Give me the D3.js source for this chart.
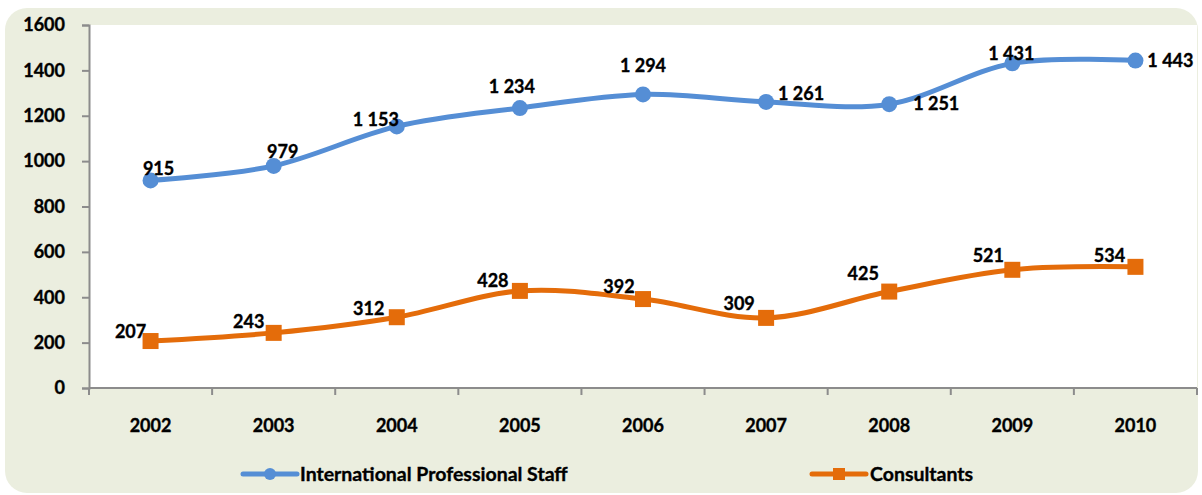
<!DOCTYPE html>
<html>
<head>
<meta charset="utf-8">
<script src="https://cdn.jsdelivr.net/npm/d3@7"></script>
<style>
  body { margin: 0; background: #fff; }
  svg { display: block; font-family: Lato, "Open Sans", sans-serif; font-weight: bold; }
  svg text { stroke: #000; stroke-width: 0.35px; }
</style>
</head>
<body>
<svg></svg>
<script>
// data
let years = ['2002', '2003', '2004', '2005', '2006', '2007', '2008', '2009', '2010'];
let staff = [915, 979, 1153, 1234, 1294, 1261, 1251, 1431, 1443];
let consultants = [207, 243, 312, 428, 392, 309, 425, 521, 534];
let yTicks = [0, 200, 400, 600, 800, 1000, 1200, 1400, 1600];

// label nudges (px) relative to each point, roughly how excel placed them
let staffDx = [8, 9, -21, -8, 0, 35, 47, -1, 35];
let staffDy = [-5, -8, 0, -15, -22, -2, 6, -3, 6];
let consDx = [-20, -25, -28, -27, -24, -27, -26, -24, -26];
let consDy = [-3, -5, -2, -4, -6, -8, -12, -8, -5];

let svgWidth = 1202,
    svgHeight = 495;

let svg = d3.select('svg')
            .attr('width', svgWidth)
            .attr('height', svgHeight);

// beige panel with rounded corners
svg.append('rect')
   .attr('x', 5)
   .attr('y', 8)
   .attr('width', 1193)
   .attr('height', 485)
   .attr('rx', 22)
   .attr('fill', '#ebeedf');

let plot = { left: 89, right: 1197, top: 25, bottom: 388 };

svg.append('rect')
   .attr('x', plot.left)
   .attr('y', plot.top)
   .attr('width', plot.right - plot.left)
   .attr('height', plot.bottom - plot.top)
   .attr('fill', '#fff');

let x = d3.scaleBand()
          .domain(years)
          .range([plot.left, plot.right]);

let y = d3.scaleLinear()
          .domain([0, 1600])
          .range([plot.bottom, plot.top]);

// y axis
let yAxis = svg.append('g')
               .attr('transform', `translate(${plot.left},0)`)
               .call(d3.axisLeft(y).tickValues(yTicks).tickSize(7).tickPadding(17).tickFormat(d3.format('d')));
yAxis.select('.domain').attr('stroke', '#8c8c8c').attr('stroke-width', 2);
yAxis.selectAll('.tick line').attr('stroke', '#8c8c8c').attr('stroke-width', 2);
yAxis.selectAll('text')
     .attr('font-size', 18)
     .attr('font-family', 'Lato')
     .attr('font-weight', 'bold')
     .attr('fill', '#000');

// x axis, ticks sit between the categories
let xAxis = svg.append('g')
               .attr('transform', `translate(0,${plot.bottom})`);
xAxis.append('line')
     .attr('x1', plot.left)
     .attr('x2', plot.right)
     .attr('stroke', '#8c8c8c')
     .attr('stroke-width', 2);
xAxis.selectAll('.xtick')
     .data(years.concat(['end']))
     .enter()
     .append('line')
     .attr('x1', (d, i) => plot.left + i * x.bandwidth())
     .attr('x2', (d, i) => plot.left + i * x.bandwidth())
     .attr('y1', 0)
     .attr('y2', 7)
     .attr('stroke', '#8c8c8c')
     .attr('stroke-width', 2);
xAxis.selectAll('.xlabel')
     .data(years)
     .enter()
     .append('text')
     .attr('x', d => x(d) + x.bandwidth() / 2)
     .attr('y', 44)
     .attr('text-anchor', 'middle')
     .attr('font-size', 18)
     .text(d => d);

let cx = (d, i) => x(years[i]) + x.bandwidth() / 2;

let line = d3.line()
             .x(cx)
             .y(d => y(d))
             .curve(d3.curveCatmullRom.alpha(0));

let fmt = v => d3.format(',')(v).replace(',', ' ');

// staff series
svg.append('path')
   .attr('d', line(staff))
   .attr('fill', 'none')
   .attr('stroke', '#558ed5')
   .attr('stroke-width', 5);

svg.selectAll('.staffDot')
   .data(staff)
   .enter()
   .append('circle')
   .attr('cx', cx)
   .attr('cy', d => y(d))
   .attr('r', 8)
   .attr('fill', '#558ed5');

svg.selectAll('.staffLabel')
   .data(staff)
   .enter()
   .append('text')
   .attr('x', (d, i) => cx(d, i) + staffDx[i])
   .attr('y', (d, i) => y(d) + staffDy[i])
   .attr('text-anchor', 'middle')
   .attr('font-size', 18)
   .text(d => fmt(d));

// consultants series
svg.append('path')
   .attr('d', line(consultants))
   .attr('fill', 'none')
   .attr('stroke', '#e46c0a')
   .attr('stroke-width', 5);

svg.selectAll('.consMark')
   .data(consultants)
   .enter()
   .append('rect')
   .attr('x', (d, i) => cx(d, i) - 8)
   .attr('y', d => y(d) - 8)
   .attr('width', 16)
   .attr('height', 16)
   .attr('fill', '#e46c0a');

svg.selectAll('.consLabel')
   .data(consultants)
   .enter()
   .append('text')
   .attr('x', (d, i) => cx(d, i) + consDx[i])
   .attr('y', (d, i) => y(d) + consDy[i])
   .attr('text-anchor', 'middle')
   .attr('font-size', 18)
   .text(d => fmt(d));

// legend
let legend = svg.append('g');

legend.append('line')
      .attr('x1', 243).attr('x2', 297)
      .attr('y1', 474).attr('y2', 474)
      .attr('stroke', '#558ed5').attr('stroke-width', 5).attr('stroke-linecap', 'round');
legend.append('circle')
      .attr('cx', 270).attr('cy', 474).attr('r', 6)
      .attr('fill', '#558ed5');
legend.append('text')
      .attr('x', 300).attr('y', 481)
      .attr('font-size', 19.5)
      .text('International Professional Staff');

legend.append('line')
      .attr('x1', 812).attr('x2', 866)
      .attr('y1', 474).attr('y2', 474)
      .attr('stroke', '#e46c0a').attr('stroke-width', 5).attr('stroke-linecap', 'round');
legend.append('rect')
      .attr('x', 833).attr('y', 468).attr('width', 12).attr('height', 12)
      .attr('fill', '#e46c0a');
legend.append('text')
      .attr('x', 870).attr('y', 481)
      .attr('font-size', 19.5)
      .text('Consultants');
</script>
</body>
</html>
